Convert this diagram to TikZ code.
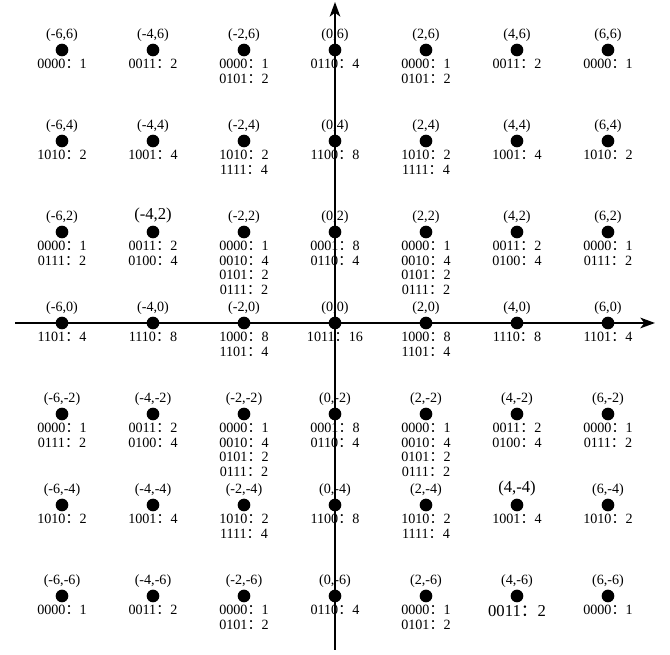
\documentclass[tikz,border=0pt]{standalone}
\usepackage{fontspec}
\setmainfont{Liberation Serif}
\newfontfamily\cjk{Noto Sans CJK SC}
\usetikzlibrary{arrows.meta, positioning}
\newcommand{\cc}{{\cjk ：}}

\begin{document}
\begin{tikzpicture}[
  x=34.125pt, y=34.125pt,
  pt/.style={circle, fill, inner sep=0pt, minimum size=9.5pt},
  lab/.style={inner sep=0pt, font=\fontsize{10.6}{10.8}\selectfont},
  labbig/.style={inner sep=0pt, font=\fontsize{12.5}{12.5}\selectfont},
  vals/.style={inner sep=0pt, align=center, font=\fontsize{10.6}{10.8}\selectfont},
  valsbig/.style={inner sep=0pt, align=center, font=\fontsize{12.5}{12.5}\selectfont},
  axis/.style={line width=1.4pt, -{Stealth[length=11pt, width=8pt, inset=3pt]}}]
  \useasboundingbox (-7.363,-7.297) rectangle (7.363,7.099);
  % lattice points: x / y / counts / label style / count style
  \foreach \px/\py/\vals/\ls/\vs in {
    -6/6/{0000\cc1}/lab/vals, -4/6/{0011\cc2}/lab/vals,
    -2/6/{0000\cc1\\0101\cc2}/lab/vals, 0/6/{0110\cc4}/lab/vals,
    2/6/{0000\cc1\\0101\cc2}/lab/vals, 4/6/{0011\cc2}/lab/vals,
    6/6/{0000\cc1}/lab/vals,
    -6/4/{1010\cc2}/lab/vals, -4/4/{1001\cc4}/lab/vals,
    -2/4/{1010\cc2\\1111\cc4}/lab/vals, 0/4/{1100\cc8}/lab/vals,
    2/4/{1010\cc2\\1111\cc4}/lab/vals, 4/4/{1001\cc4}/lab/vals,
    6/4/{1010\cc2}/lab/vals,
    -6/2/{0000\cc1\\0111\cc2}/lab/vals, -4/2/{0011\cc2\\0100\cc4}/labbig/vals,
    -2/2/{0000\cc1\\0010\cc4\\0101\cc2\\0111\cc2}/lab/vals,
    0/2/{0001\cc8\\0110\cc4}/lab/vals,
    2/2/{0000\cc1\\0010\cc4\\0101\cc2\\0111\cc2}/lab/vals,
    4/2/{0011\cc2\\0100\cc4}/lab/vals, 6/2/{0000\cc1\\0111\cc2}/lab/vals,
    -6/0/{1101\cc4}/lab/vals, -4/0/{1110\cc8}/lab/vals,
    -2/0/{1000\cc8\\1101\cc4}/lab/vals, 0/0/{1011\cc16}/lab/vals,
    2/0/{1000\cc8\\1101\cc4}/lab/vals, 4/0/{1110\cc8}/lab/vals,
    6/0/{1101\cc4}/lab/vals,
    -6/-2/{0000\cc1\\0111\cc2}/lab/vals, -4/-2/{0011\cc2\\0100\cc4}/lab/vals,
    -2/-2/{0000\cc1\\0010\cc4\\0101\cc2\\0111\cc2}/lab/vals,
    0/-2/{0001\cc8\\0110\cc4}/lab/vals,
    2/-2/{0000\cc1\\0010\cc4\\0101\cc2\\0111\cc2}/lab/vals,
    4/-2/{0011\cc2\\0100\cc4}/lab/vals, 6/-2/{0000\cc1\\0111\cc2}/lab/vals,
    -6/-4/{1010\cc2}/lab/vals, -4/-4/{1001\cc4}/lab/vals,
    -2/-4/{1010\cc2\\1111\cc4}/lab/vals, 0/-4/{1100\cc8}/lab/vals,
    2/-4/{1010\cc2\\1111\cc4}/lab/vals, 4/-4/{1001\cc4}/labbig/vals,
    6/-4/{1010\cc2}/lab/vals,
    -6/-6/{0000\cc1}/lab/vals, -4/-6/{0011\cc2}/lab/vals,
    -2/-6/{0000\cc1\\0101\cc2}/lab/vals, 0/-6/{0110\cc4}/lab/vals,
    2/-6/{0000\cc1\\0101\cc2}/lab/vals, 4/-6/{0011\cc2}/lab/valsbig,
    6/-6/{0000\cc1}/lab/vals}{
    \node[pt] (dot\px\py) at (\px,\py) {};
    \node[\ls, above=1.5pt of dot\px\py] (xy\px\py) {(\px,\py)};
    \node[\vs, below=2pt of dot\px\py] (val\px\py) {\vals};
  }
  % axes
  \coordinate (xl) at (-7.033,0);
  \coordinate (xr) at (7.033,0);
  \coordinate (yb) at (0,-7.187);
  \coordinate (yt) at (0,7.055);
  \draw[axis] (xl) -- (xr);
  \draw[axis] (yb) -- (yt);
\end{tikzpicture}
\end{document}
